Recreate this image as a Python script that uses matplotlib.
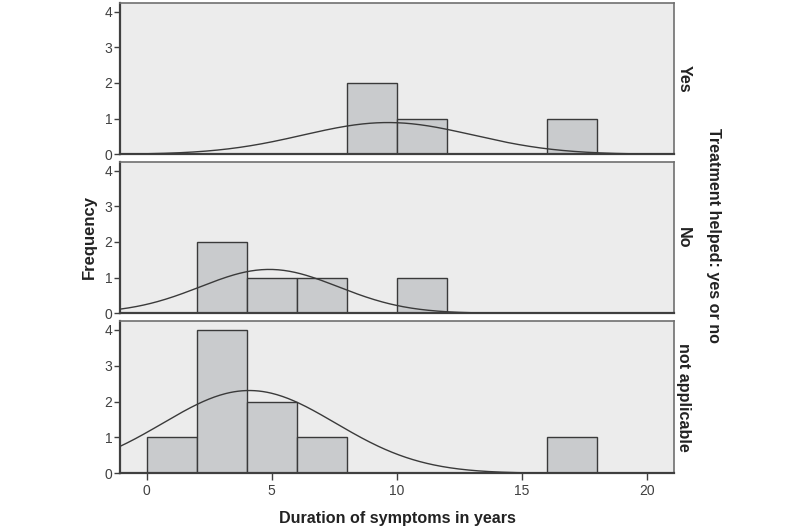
import numpy as np
import matplotlib
matplotlib.use("Agg")
import matplotlib.pyplot as plt

plt.rcParams['font.family'] = ['Liberation Sans', 'DejaVu Sans']

# Data
groups = ["Yes", "No", "not applicable"]
bin_edges = [0, 2, 4, 6, 8, 10, 12, 14, 16, 18]
counts = {
    "Yes":            [0, 0, 0, 0, 2, 1, 0, 0, 1],
    "No":             [0, 2, 1, 1, 0, 1, 0, 0, 0],
    "not applicable": [1, 4, 2, 1, 0, 0, 0, 0, 1],
}
# fitted normal curve: mean, sd, peak height
curve_mean = {"Yes": 9.65, "No": 4.9, "not applicable": 4.1}
curve_sd = {"Yes": 3.4, "No": 2.75, "not applicable": 3.45}
curve_peak = {"Yes": 0.89, "No": 1.23, "not applicable": 2.31}
x_ticks = [0, 5, 10, 15, 20]
y_ticks = [0, 1, 2, 3, 4]

fig = plt.figure(figsize=(8, 5.3), dpi=100)
W, H = 800, 530
left, right = 120, 674
panels_px = [(2.7, 154.3), (161.7, 313.3), (321, 473.3)]

bg = "#ECECEC"
bar_col = "#C9CBCD"
edge_col = "#3A3A3A"
xlim = (-1.07, 21.09)
xs = np.linspace(xlim[0], xlim[1], 400)

axes = []
for i, g in enumerate(groups):
    top, bot = panels_px[i]
    ax = fig.add_axes([left / W, 1 - bot / H, (right - left) / W, (bot - top) / H])
    ax.set_facecolor(bg)
    widths = np.diff(bin_edges)
    ax.bar(bin_edges[:-1], counts[g], width=widths, align='edge',
           color=bar_col, edgecolor=edge_col, linewidth=1.0, zorder=2)
    m, s, p = curve_mean[g], curve_sd[g], curve_peak[g]
    ax.plot(xs, p * np.exp(-0.5 * ((xs - m) / s) ** 2), color=edge_col, lw=1.0, zorder=3)
    ax.set_xlim(*xlim)
    ax.set_ylim(0, 4.25)
    ax.set_yticks(y_ticks)
    ax.set_yticklabels([str(t) for t in y_ticks], color="#404040", fontsize=10)
    ax.tick_params(axis='y', length=4, width=1, color="#404040", pad=1.5)
    for sp in ['left', 'bottom']:
        ax.spines[sp].set_color("#404040")
        ax.spines[sp].set_linewidth(1.6)
    for sp in ['top', 'right']:
        ax.spines[sp].set_color("#707070")
        ax.spines[sp].set_linewidth(1.2)
    if i < 2:
        ax.set_xticks([])
    else:
        ax.set_xticks(x_ticks)
        ax.set_xticklabels([str(t) for t in x_ticks], color="#404040", fontsize=10)
        ax.tick_params(axis='x', length=5, width=1, color="#404040", pad=3)
    ax.text(1.004, 0.5, g, transform=ax.transAxes, rotation=-90, ha='left', va='center',
            fontsize=11.6, fontweight='bold', color="#222222")
    axes.append(ax)

fig.text(89 / W, 1 - 237 / H, "Frequency", rotation=90, ha='center', va='center',
         fontsize=12, fontweight='bold', color="#222222")
fig.text(713 / W, 1 - 235 / H, "Treatment helped: yes or no", rotation=-90, ha='center',
         va='center', fontsize=11.6, fontweight='bold', color="#222222")
fig.text(397 / W, 1 - 519 / H, "Duration of symptoms in years", ha='center', va='center',
         fontsize=11.6, fontweight='bold', color="#222222")

fig.savefig("out.png", dpi=100)
